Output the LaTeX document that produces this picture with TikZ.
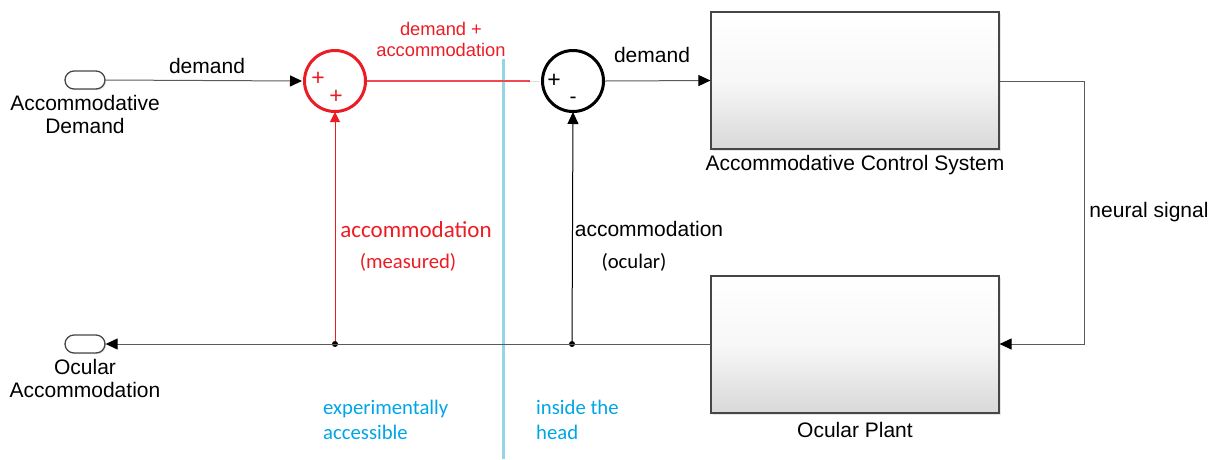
\documentclass[tikz,border=0pt]{standalone}
\usepackage{fontspec}
\setmainfont{Liberation Sans}
\newfontfamily\calfont{Carlito}
\usetikzlibrary{arrows.meta,shadows}
\definecolor{sred}{RGB}{236,28,36}
\definecolor{sblue}{RGB}{0,165,230}
\definecolor{lblue}{RGB}{150,212,232}
\definecolor{wire}{RGB}{90,90,90}
\definecolor{bord}{RGB}{70,70,70}
\begin{document}
\begin{tikzpicture}[x=1pt,y=-1pt,
  lbl/.style={font=\fontsize{21}{24}\selectfont, inner sep=0pt, align=center},
  clbl/.style={font=\calfont\fontsize{20.7}{25}\selectfont, inner sep=0pt},
  port/.style={draw=bord, line width=1.3pt, rounded corners=9pt, minimum width=40pt, minimum height=18pt, inner sep=0pt, fill=white, drop shadow={opacity=0.2, shadow xshift=1.2pt, shadow yshift=-1.2pt}},
  blockbox/.style={draw=bord, line width=1.1pt, minimum width=288pt, minimum height=137pt, inner sep=0pt, shading=axis, top color=white, bottom color=black!15, middle color=black!3, drop shadow={opacity=0.2, shadow xshift=1.5pt, shadow yshift=-1.5pt}},
  sumnode/.style={circle, line width=3pt, minimum size=61pt, inner sep=0pt, fill=white},
  wireline/.style={draw=wire, line width=1pt},
  arr/.style={-{Triangle[length=12pt,width=11pt,color=black]}},
  dotn/.style={circle, fill=black, inner sep=0pt, minimum size=6pt}
]
\useasboundingbox (0,0) rectangle (1215,459);

% blue separator
\draw[lblue, line width=3pt] (503,59) -- (503,459);

% ports
\node[port] (inp) at (85,80) {};
\node[port] (outp) at (85,344) {};
\node[lbl, anchor=north] (inl) at (85,95) {Accommodative\\[-1pt]Demand};
\node[lbl, anchor=north] (outl) at (85,359) {Ocular\\[-1pt]Accommodation};

% sums
\node[sumnode, draw=sred] (s1) at (335,81) {};
\node[sumnode, draw=black] (s2) at (573,81) {};
\node[lbl, text=sred, font=\fontsize{23}{24}\selectfont] (p1) at (318,79) {+};
\node[lbl, text=sred, font=\fontsize{23}{24}\selectfont] (p2) at (336,97) {+};
\node[lbl, font=\fontsize{23}{24}\selectfont] (p3) at (554,81) {+};
\node[lbl, font=\fontsize{21}{24}\selectfont] (m3) at (573,100) {-};

% blocks
\node[blockbox] (acs) at (855,80.5) {};
\node[blockbox] (op) at (855,344.5) {};
\node[lbl] (acsl) at (855,165) {Accommodative Control System};
\node[lbl] (opl) at (855,430) {Ocular Plant};

% junctions
\node[dotn] (j1) at (335,344) {};
\node[dotn] (j2) at (572,344) {};
\coordinate (c1) at (1084,81);
\coordinate (c2) at (1084,344);

% wires
\draw[wireline, arr] (inp.east) -- ([xshift=-1pt]s1.west);
\draw[sred!80, line width=1.1pt] (s1.east) -- ([xshift=-11pt]s2.west);
\draw[arr, draw=none, fill=black] ([xshift=-13pt]s2.west) -- ([xshift=-1pt]s2.west);
\draw[wireline, arr] (s2.east) -- (acs.west);
\draw[wireline, arr] (acs.east |- c1) -- (c1) -- (c2) -- (op.east |- c2);
\draw[wireline, arr] (op.west |- c2) -- (outp.east);
\draw[sred, line width=1pt, -{Triangle[length=10pt,width=10pt]}] (j1) -- ([yshift=1pt]s1.south);
\draw[black, line width=1pt, arr] (j2) -- ([yshift=1pt]s2.south);

% labels
\node[lbl] (d1) at (207,66) {demand};
\node[lbl, text=sred, font=\fontsize{18.3}{21}\selectfont] (dacc) at (441,39) {demand +\\accommodation};
\node[lbl] (d2) at (652,55) {demand};
\node[lbl] (ns) at (1149,212) {neural signal};
\node[lbl, text=sred, font=\calfont\fontsize{23}{26}\selectfont] (ra) at (416,230) {accommodation};
\node[clbl, text=sred] (rm) at (408,262) {(measured)};
\node[lbl] (ba) at (649,229) {accommodation};
\node[clbl] (bo) at (634,262) {(ocular)};
\node[clbl, text=sblue, anchor=west, align=left, font=\calfont\fontsize{20.7}{25}\selectfont] (ea) at (323,420) {experimentally\\accessible};
\node[clbl, text=sblue, anchor=west, align=left, font=\calfont\fontsize{20.7}{25}\selectfont] (ih) at (536,420) {inside the\\head};
\end{tikzpicture}
\end{document}
